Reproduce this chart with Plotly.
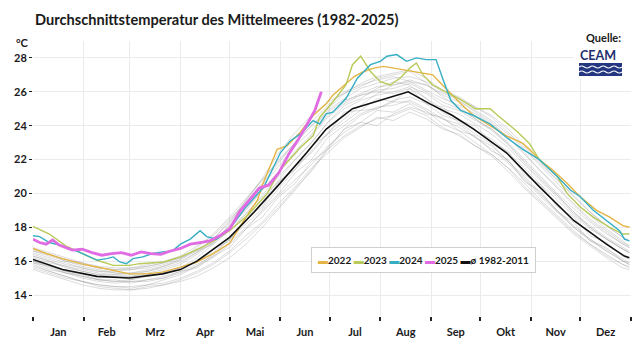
import plotly.graph_objects as go

# ---------------- data ----------------
MONTHS = ["Jan", "Feb", "Mrz", "Apr", "Mai", "Jun", "Jul", "Aug", "Sep", "Okt", "Nov", "Dez"]
MONTH_START = [0, 31, 59, 90, 120, 151, 181, 212, 243, 273, 304, 334, 365]
Y_TICKS = [14, 16, 18, 20, 22, 24, 26, 28]

# mean 1982-2011
MEAN_DAYS = [0, 18, 39, 59, 79, 90, 100, 120, 135, 149, 167, 179, 195, 216, 229, 242, 256, 269, 289, 309, 330, 350, 361, 364]
MEAN_VALS = [16.1, 15.5, 15.1, 15.0, 15.25, 15.5, 16.0, 17.4, 18.9, 20.4, 22.4, 23.8, 25.0, 25.6, 26.0, 25.3, 24.6, 23.8, 22.4, 20.4, 18.4, 17.0, 16.3, 16.2]

D2022 = [0, 8, 18, 29, 39, 49, 59, 69, 79, 90, 100, 110, 120, 130, 137, 140, 149, 155, 163, 171, 179, 183, 190, 196, 202, 208, 214, 220, 226, 232, 238, 244, 248, 256, 262, 269, 279, 289, 299, 303, 309, 317, 326, 334, 344, 352, 360, 364]
V2022 = [16.75, 16.45, 16.15, 15.85, 15.65, 15.45, 15.25, 15.25, 15.35, 15.65, 15.95, 16.45, 17.05, 18.6, 19.6, 20.5, 22.6, 22.8, 23.6, 24.6, 25.3, 25.8, 26.4, 26.9, 27.2, 27.4, 27.5, 27.4, 27.3, 27.2, 27.1, 27.0, 26.6, 25.8, 25.2, 24.6, 24.0, 23.4, 22.95, 22.6, 22.0, 21.4, 20.6, 19.8, 19.0, 18.6, 18.1, 18.0]

D2023 = [0, 10, 20, 29, 39, 49, 59, 65, 80, 90, 104, 112, 120, 132, 143, 151, 163, 171, 175, 183, 191, 195, 200, 206, 212, 218, 224, 230, 234, 238, 244, 252, 260, 270, 279, 285, 295, 303, 309, 320, 326, 334, 342, 352, 360, 364]
V2023 = [18.05, 17.6, 16.9, 16.5, 16.05, 15.75, 15.75, 15.85, 15.95, 16.25, 16.85, 17.3, 17.8, 18.8, 20.0, 21.4, 22.7, 23.4, 24.5, 25.4, 26.4, 27.6, 28.1, 27.2, 26.6, 26.4, 26.8, 27.4, 27.7, 27.0, 26.4, 26.0, 25.6, 25.0, 25.0, 24.5, 23.7, 22.95, 22.0, 21.0, 20.0, 19.2, 18.6, 18.0, 17.6, 17.6]

D2024 = [0, 4, 10, 18, 29, 35, 39, 45, 49, 53, 57, 61, 67, 73, 79, 85, 90, 96, 102, 106, 112, 120, 130, 141, 151, 157, 163, 171, 175, 179, 183, 191, 198, 202, 206, 212, 216, 222, 228, 234, 240, 246, 248, 250, 255, 261, 269, 279, 289, 299, 309, 320, 328, 334, 342, 350, 358, 361, 364]
V2024 = [17.5, 17.45, 17.1, 16.9, 16.5, 16.25, 16.06, 16.15, 16.25, 15.95, 15.85, 16.15, 16.25, 16.45, 16.55, 16.6, 17.0, 17.3, 17.8, 17.45, 17.3, 17.9, 19.2, 20.4, 22.4, 23.1, 23.5, 24.3, 24.1, 24.7, 24.8, 25.6, 26.8, 27.2, 27.6, 27.8, 28.1, 28.2, 27.8, 28.0, 27.9, 27.9, 27.3, 26.8, 25.5, 24.9, 24.6, 24.1, 23.3, 22.6, 22.0, 21.0, 20.2, 19.8, 19.0, 18.4, 17.8, 17.3, 17.2]

D2025 = [0, 4, 8, 12, 16, 20, 24, 30, 36, 42, 48, 54, 60, 66, 72, 78, 84, 90, 96, 102, 108, 114, 120, 126, 132, 138, 144, 150, 156, 162, 168, 172, 176]
V2025 = [17.3, 17.1, 17.0, 17.25, 16.95, 16.8, 16.65, 16.7, 16.5, 16.35, 16.45, 16.5, 16.35, 16.55, 16.45, 16.4, 16.6, 16.75, 17.0, 17.1, 17.2, 17.5, 17.9, 18.9, 19.6, 20.3, 20.5, 21.2, 22.3, 23.2, 24.2, 24.9, 26.0]

# other years 1982-2021 (grey background), estimated every 10 days
GRAY_DAYS = [0, 10, 20, 30, 40, 50, 60, 70, 80, 90, 100, 110, 120, 130, 140, 150, 160, 170, 180, 190,
             200, 210, 220, 230, 240, 250, 260, 270, 280, 290, 300, 310, 320, 330, 340, 350, 360, 364]
GRAY_YEARS = [
    [15.6, 15.3, 15.0, 14.8, 14.6, 14.5, 14.4, 14.6, 14.7, 15.0, 15.4, 15.9, 16.6, 17.5, 18.3, 19.4, 20.4, 21.5, 22.4, 23.3, 23.9, 24.5, 24.3, 24.8, 24.4, 23.8, 23.5, 22.8, 22.3, 21.5, 20.6, 19.6, 18.7, 17.8, 17.0, 16.4, 15.8, 15.7],
    [15.9, 15.5, 15.3, 15.0, 14.8, 14.7, 14.8, 14.8, 15.0, 15.3, 15.7, 16.2, 17.0, 17.9, 19.0, 20.0, 21.2, 22.0, 23.3, 24.0, 24.7, 25.1, 25.2, 25.5, 25.0, 24.4, 24.1, 23.3, 22.8, 21.9, 20.9, 19.9, 19.0, 18.1, 17.3, 16.7, 16.1, 15.9],
    [16.3, 16.0, 15.7, 15.5, 15.3, 15.2, 15.1, 15.3, 15.5, 15.8, 16.4, 17.1, 18.0, 19.1, 20.2, 21.3, 22.3, 23.4, 24.5, 25.3, 25.8, 26.1, 26.2, 26.5, 26.0, 25.4, 25.0, 24.4, 23.7, 22.9, 21.8, 20.8, 19.9, 18.9, 18.1, 17.4, 16.8, 16.6],
    [16.4, 16.1, 15.8, 15.6, 15.4, 15.4, 15.5, 15.7, 15.9, 16.2, 16.7, 17.2, 18.0, 18.8, 19.8, 20.7, 21.6, 22.4, 23.5, 24.2, 24.9, 25.0, 25.5, 25.7, 25.3, 24.6, 24.3, 23.7, 23.2, 22.4, 21.5, 20.5, 19.6, 18.7, 17.9, 17.3, 16.7, 16.5],
    [15.7, 15.4, 15.1, 14.8, 14.6, 14.5, 14.5, 14.6, 14.9, 15.2, 15.7, 16.4, 17.3, 18.4, 19.5, 20.8, 22.0, 23.0, 24.2, 25.2, 25.6, 26.2, 26.6, 26.4, 25.6, 24.8, 24.2, 23.5, 22.9, 21.9, 21.0, 20.0, 19.0, 18.0, 17.2, 16.6, 16.0, 15.8],
    [16.0, 15.8, 15.4, 15.3, 15.0, 15.1, 14.9, 15.2, 15.2, 15.6, 15.9, 16.7, 17.2, 18.6, 19.2, 20.7, 21.4, 22.8, 23.5, 24.8, 24.9, 25.6, 25.4, 26.2, 25.3, 25.1, 24.3, 24.0, 23.0, 22.5, 21.1, 20.5, 19.2, 18.6, 17.5, 17.1, 16.3, 16.1],
    [16.6, 16.3, 16.0, 15.8, 15.6, 15.5, 15.6, 15.8, 16.0, 16.3, 16.9, 17.5, 18.5, 19.4, 20.5, 21.6, 22.8, 23.7, 24.9, 25.6, 26.2, 26.5, 26.8, 26.9, 26.6, 26.0, 25.5, 24.8, 24.2, 23.3, 22.4, 21.3, 20.4, 19.4, 18.5, 17.8, 17.1, 16.9],
    [15.5, 15.2, 14.9, 14.6, 14.4, 14.3, 14.3, 14.4, 14.6, 14.9, 15.3, 15.8, 16.5, 17.3, 18.2, 19.2, 20.3, 21.3, 22.6, 23.4, 24.0, 24.4, 24.6, 25.0, 24.6, 23.9, 23.4, 22.8, 22.2, 21.3, 20.3, 19.4, 18.5, 17.6, 16.9, 16.2, 15.6, 15.5],
    [16.2, 15.9, 15.7, 15.4, 15.2, 15.1, 15.1, 15.2, 15.4, 15.6, 16.0, 16.5, 17.3, 18.2, 19.1, 20.3, 21.4, 22.5, 23.6, 24.4, 25.2, 25.9, 26.4, 26.7, 26.4, 25.8, 25.4, 24.9, 24.3, 23.5, 22.6, 21.6, 20.6, 19.6, 18.7, 17.9, 17.2, 16.9],
    [16.5, 16.2, 15.9, 15.6, 15.4, 15.3, 15.3, 15.5, 15.7, 16.0, 16.5, 17.1, 18.1, 19.0, 20.2, 21.3, 22.5, 23.5, 24.6, 25.4, 25.9, 26.3, 26.4, 26.6, 26.4, 25.9, 25.6, 25.1, 24.5, 23.6, 22.7, 21.7, 20.8, 19.8, 18.9, 18.1, 17.4, 17.2],
    [16.0, 15.6, 15.3, 15.1, 14.9, 14.8, 14.8, 14.9, 15.1, 15.4, 15.8, 16.3, 17.1, 18.0, 18.9, 19.9, 20.8, 21.7, 22.8, 23.6, 24.2, 24.0, 24.7, 25.1, 24.8, 24.4, 23.9, 23.3, 22.6, 21.8, 20.8, 19.8, 18.9, 18.0, 17.3, 16.6, 16.0, 15.9],
    [16.6, 16.4, 16.1, 15.9, 15.7, 15.6, 15.6, 15.7, 15.9, 16.2, 16.6, 17.0, 17.8, 18.8, 19.9, 21.0, 22.0, 23.0, 24.2, 25.0, 25.5, 25.8, 26.0, 26.3, 25.9, 25.2, 24.9, 24.3, 23.8, 23.0, 22.0, 21.0, 20.0, 19.1, 18.3, 17.6, 17.0, 16.8],
    [15.8, 15.4, 15.1, 14.8, 14.5, 14.4, 14.3, 14.5, 14.6, 14.8, 15.1, 15.6, 16.2, 17.0, 18.0, 19.1, 20.2, 21.4, 22.7, 23.8, 24.6, 25.0, 25.4, 25.4, 24.9, 24.1, 23.7, 23.0, 22.3, 21.5, 20.4, 19.5, 18.6, 17.7, 17.0, 16.3, 15.8, 15.6],
    [16.3, 16.0, 15.6, 15.4, 15.2, 15.2, 15.3, 15.4, 15.6, 15.9, 16.5, 17.3, 18.4, 19.6, 20.8, 22.0, 23.0, 24.0, 24.8, 25.5, 25.8, 26.0, 25.9, 26.2, 25.6, 25.0, 24.7, 24.1, 23.5, 22.7, 21.7, 20.7, 19.8, 18.8, 18.0, 17.3, 16.7, 16.5],
    [16.0, 15.7, 15.4, 15.1, 14.9, 14.8, 14.9, 15.1, 15.3, 15.6, 16.2, 17.0, 18.2, 19.6, 20.9, 22.4, 23.6, 24.6, 25.4, 25.9, 26.3, 26.8, 27.0, 27.2, 26.5, 25.7, 25.1, 24.4, 23.8, 22.9, 21.9, 20.9, 19.9, 18.9, 18.0, 17.3, 16.7, 16.5],
    [16.7, 16.4, 16.0, 15.7, 15.5, 15.3, 15.2, 15.4, 15.7, 16.1, 16.8, 17.6, 18.6, 19.7, 20.8, 21.9, 23.0, 24.0, 25.0, 25.9, 26.5, 26.9, 27.1, 27.3, 26.8, 26.1, 25.7, 25.1, 24.6, 23.8, 22.8, 21.8, 20.8, 19.9, 18.9, 18.1, 17.4, 17.2],
    [16.8, 16.5, 16.2, 15.9, 15.6, 15.5, 15.5, 15.6, 15.8, 16.1, 16.6, 17.3, 18.3, 19.5, 20.6, 21.8, 23.0, 24.2, 25.2, 26.0, 26.4, 26.7, 26.9, 26.6, 26.1, 25.6, 25.2, 24.7, 24.1, 23.3, 22.3, 21.3, 20.3, 19.3, 18.4, 17.7, 17.0, 16.8],
    [15.9, 15.7, 15.3, 15.2, 14.9, 14.9, 14.7, 14.9, 15.0, 15.4, 15.6, 16.3, 16.8, 17.9, 18.6, 19.8, 20.6, 21.9, 22.6, 23.8, 24.2, 24.9, 24.8, 25.3, 24.7, 24.5, 23.7, 23.4, 22.5, 22.0, 20.7, 20.1, 18.9, 18.3, 17.2, 16.8, 16.0, 15.8],
]

# ---------------- styling ----------------
C2022, C2023, C2024, C2025, CMEAN = "#e4b445", "#b9c95a", "#35aec4", "#e06be2", "#111111"
GRAY = "rgba(140,140,140,0.38)"
FONT = "Lato"

# plot area in pixels (640x360 canvas)
L, R, T, B = 33, 631, 41, 316


def px(x):
    return (x - L) / (R - L)


def py(y):
    return (B - y) / (B - T)


fig = go.Figure()
for vals in GRAY_YEARS:
    fig.add_trace(go.Scatter(x=GRAY_DAYS, y=vals, mode="lines",
                             line=dict(color=GRAY, width=0.8), hoverinfo="skip"))

for d, v, c, w in [(D2022, V2022, C2022, 1.4), (D2023, V2023, C2023, 1.4),
                   (D2024, V2024, C2024, 1.4)]:
    fig.add_trace(go.Scatter(x=d, y=v, mode="lines", line=dict(color=c, width=w)))
fig.add_trace(go.Scatter(x=MEAN_DAYS, y=MEAN_VALS, mode="lines", line=dict(color=CMEAN, width=1.6)))
fig.add_trace(go.Scatter(x=D2025, y=V2025, mode="lines", line=dict(color=C2025, width=2.8)))

mid = [(MONTH_START[i] + MONTH_START[i + 1]) / 2 for i in range(12)]

fig.update_layout(
    width=640, height=360,
    margin=dict(l=L, r=640 - R, t=T, b=360 - B),
    paper_bgcolor="white", plot_bgcolor="white",
    showlegend=False,
    font=dict(family=FONT, color="#1a1a1a", size=11),
    xaxis=dict(
        range=[0, 365], tickvals=mid, ticktext=MONTHS, ticks="", showgrid=False,
        zeroline=False, showline=False, ticklabelstandoff=8,
        tickfont=dict(family=FONT, size=11, weight="bold", color="#1a1a1a"),
        minor=dict(tickvals=MONTH_START, ticks="outside", ticklen=4, tickwidth=1.5,
                   tickcolor="#222", showgrid=True, gridcolor="#ebebeb", gridwidth=1),
    ),
    yaxis=dict(
        range=[12.76, 29.0], tickvals=Y_TICKS, ticks="outside", ticklen=3, tickwidth=1.2,
        tickcolor="#222", showgrid=True, gridcolor="#ebebeb", zeroline=False, showline=False,
        tickfont=dict(family=FONT, size=11, weight="bold", color="#1a1a1a"),
    ),
)

# title
fig.add_annotation(text="Durchschnittstemperatur des Mittelmeeres (1982-2025)",
                   xref="paper", yref="paper", x=px(33), y=py(20), xanchor="left", yanchor="middle",
                   showarrow=False, font=dict(family=FONT, size=14.6, weight="bold", color="#1a1a1a"))
# unit
fig.add_annotation(text="°C", xref="paper", yref="paper", x=px(14), y=py(42),
                   xanchor="left", yanchor="middle", showarrow=False,
                   font=dict(family=FONT, size=11, weight="bold", color="#1a1a1a"))

# source block
fig.add_shape(type="rect", xref="paper", yref="paper", x0=px(574), x1=px(631), y0=py(30), y1=py(79),
              fillcolor="white", line=dict(width=0), layer="above")
fig.add_annotation(text="Quelle:", xref="paper", yref="paper", x=px(623), y=py(38),
                   xanchor="right", yanchor="middle", showarrow=False,
                   font=dict(family=FONT, size=11, weight="bold", color="#1a1a1a"))
fig.add_annotation(text="CEAM", xref="paper", yref="paper", x=px(578), y=py(55),
                   xanchor="left", yanchor="middle", showarrow=False,
                   font=dict(family=FONT, size=12.5, weight="bold", color="#1f2f6e"))
fig.add_shape(type="rect", xref="paper", yref="paper", x0=px(579), x1=px(622), y0=py(63), y1=py(76),
              fillcolor="#233780", line=dict(width=0), layer="above")
for yy in (67, 72):
    pts = [579 + i * 5.375 for i in range(9)]
    path = "M {:.4f},{:.4f}".format(px(pts[0]), py(yy))
    for i in range(8):
        ctrl = yy - 2 if i % 2 == 0 else yy + 2
        path += " Q {:.4f},{:.4f} {:.4f},{:.4f}".format(px((pts[i] + pts[i + 1]) / 2), py(ctrl),
                                                        px(pts[i + 1]), py(yy))
    fig.add_shape(type="path", xref="paper", yref="paper", path=path,
                  line=dict(color="white", width=1.2), layer="above")

# legend (compact, inside plot)
items = [("2022", C2022), ("2023", C2023), ("2024", C2024), ("2025", C2025), ("ø 1982-2011", CMEAN)]
legend_txt = " ".join("<span style='color:{}'>▬</span>{}".format(c, t) for t, c in items)
fig.add_annotation(text=legend_txt, xref="paper", yref="paper", x=px(423), y=py(260),
                   xanchor="center", yanchor="middle", showarrow=False,
                   font=dict(family=FONT, size=10, weight="bold", color="#1a1a1a"),
                   bgcolor="white", bordercolor="#cfcfcf", borderwidth=1, borderpad=6)

fig.write_html("out.html", config={"displayModeBar": False},
               post_script="document.body.style.margin='0';")
